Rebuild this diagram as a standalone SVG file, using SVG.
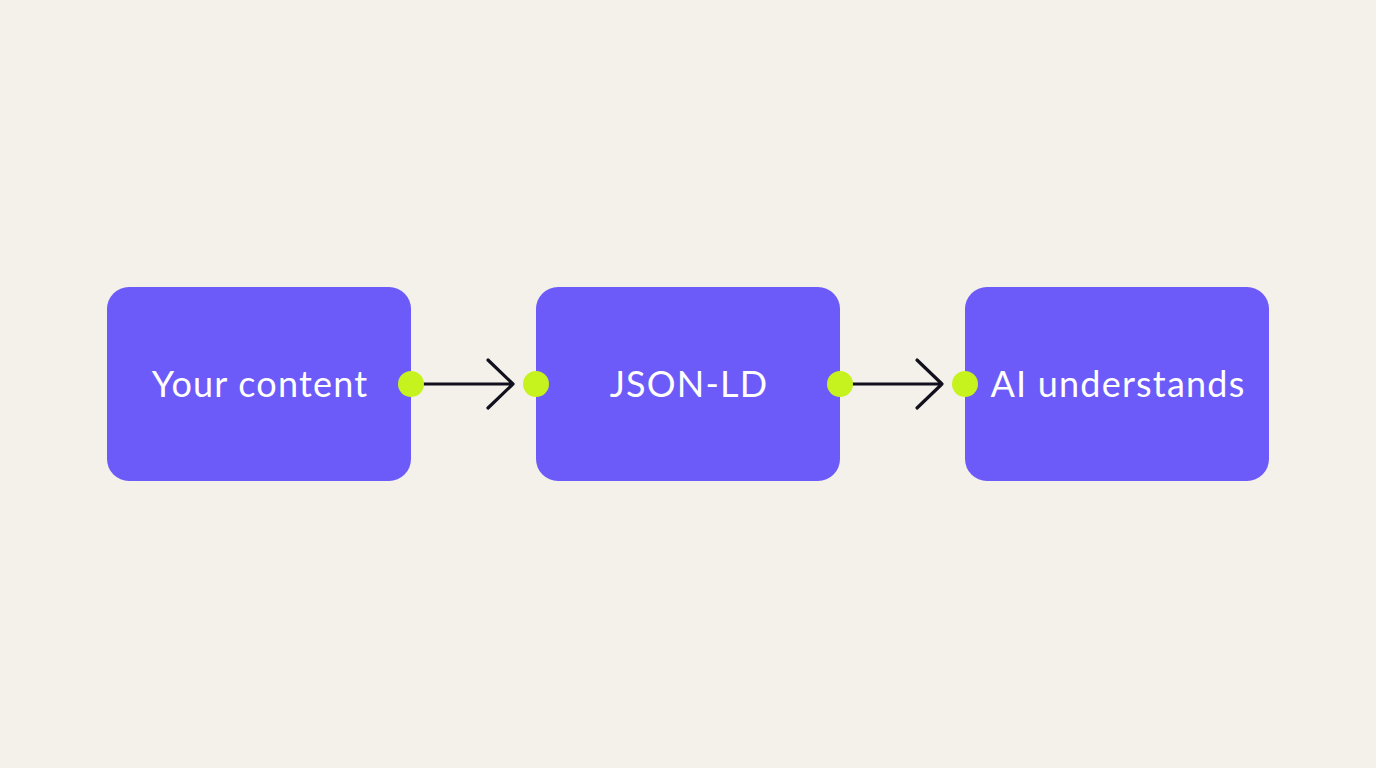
<svg xmlns="http://www.w3.org/2000/svg" width="1376" height="768" viewBox="0 0 1376 768">
<style>
.box{fill:#6c5bf8}
.lbl{font-family:Lato,"Noto Sans",sans-serif;font-size:36px;letter-spacing:1.2px;fill:#ffffff;text-anchor:middle}
.dot{fill:#c6f31e}
.ln{stroke:#12101c;stroke-width:3.2;fill:none;stroke-linecap:round;stroke-linejoin:round}
</style>
<rect width="1376" height="768" fill="#f4f0ea"/>
<g id="node-content"><rect class="box" x="107" y="287" width="304" height="194" rx="22"/><text class="lbl" x="260" y="397">Your content</text></g>
<g id="node-jsonld"><rect class="box" x="536" y="287" width="304" height="194" rx="22"/><text class="lbl" x="689" y="397">JSON-LD</text></g>
<g id="node-ai"><rect class="box" x="965" y="287" width="304" height="194" rx="22"/><text class="lbl" x="1118" y="397">AI understands</text></g>
<g id="connectors">
<path class="ln" d="M411 384H513M488 360L513 384L488 408"/>
<path class="ln" d="M840 384H942M917 360L942 384L917 408"/>
<circle class="dot" cx="411" cy="384" r="13"/>
<circle class="dot" cx="536" cy="384" r="13"/>
<circle class="dot" cx="840" cy="384" r="13"/>
<circle class="dot" cx="965" cy="384" r="13"/>
</g>
</svg>
